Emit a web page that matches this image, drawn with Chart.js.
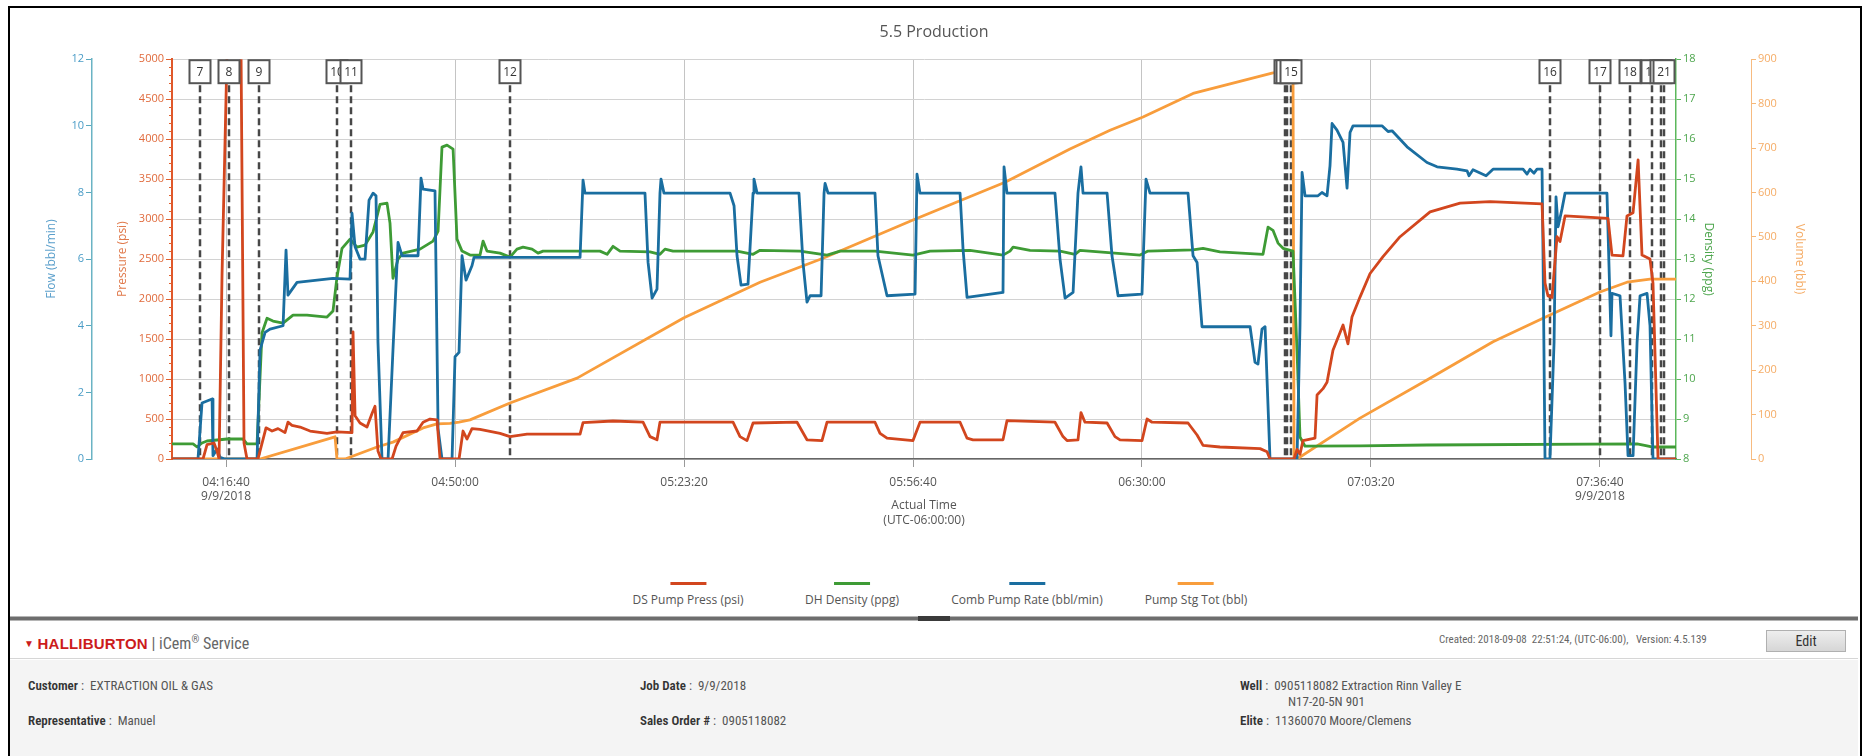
<!doctype html>
<html lang="en-US">
<head>
    <meta charset="utf-8" />
    <title>5.5 Production</title>
    <script src="https://cdn.jsdelivr.net/npm/chart.js@4.4.0/dist/chart.umd.min.js"></script>
    <style>
        body {
            margin: 0;
            width: 1868px;
            height: 756px;
            overflow: hidden;
            background: #fff;
            font-family: 'Open Sans', sans-serif;
            position: relative;
        }

        .frame {
            position: absolute;
            left: 8px;
            top: 6px;
            width: 1850px;
            height: 760px;
            border: 2px solid #000;
            border-bottom: none;
        }

        #chartBox {
            position: absolute;
            left: 10px;
            top: 9px;
            width: 1848px;
            height: 572px;
        }

        .legend-item {
            position: absolute;
            top: 582px;
            transform: translateX(-50%);
            text-align: center;
            font-size: 12px;
            color: #555;
            white-space: nowrap;
        }

        .legend-item .swatch {
            width: 36px;
            height: 3px;
            margin: 0 auto 6px auto;
        }

        .splitter {
            position: absolute;
            left: 10px;
            top: 616px;
            width: 1848px;
            height: 3px;
            background: #6d6d6d;
            border-top: 1px solid #b5b5b5;
            border-bottom: 1px solid #b5b5b5;
        }

        .splitter .grip {
            position: absolute;
            left: 908px;
            top: -1px;
            width: 32px;
            height: 5px;
            background: #3a3a3a;
        }

        .bottom {
            font-family: 'Liberation Sans Narrow', 'Roboto Condensed', 'Liberation Sans', sans-serif;
        }

        .brand {
            position: absolute;
            left: 24px;
            top: 630px;
            height: 20px;
            line-height: 20px;
            white-space: nowrap;
        }

        .brand .tri {
            color: #cc1b1b;
            font-size: 10px;
            vertical-align: 2px;
        }

        .brand .hal {
            color: #cc1b1b;
            font-weight: bold;
            font-size: 15px;
            font-family: 'Liberation Sans', sans-serif;
            letter-spacing: 0.2px;
        }

        .brand .svc {
            color: #666;
            font-size: 16px;
        }

        .created {
            position: absolute;
            left: 1439px;
            top: 633px;
            font-size: 11px;
            color: #666;
            white-space: nowrap;
        }

        .edit {
            position: absolute;
            left: 1766px;
            top: 630px;
            width: 80px;
            height: 22px;
            line-height: 21px;
            text-align: center;
            font-size: 14px;
            color: #333;
            background: linear-gradient(#eeeeee, #d6d6d6);
            border: 1px solid #b0b0b0;
            box-sizing: border-box;
        }

        .rule {
            position: absolute;
            left: 10px;
            top: 658px;
            width: 1848px;
            height: 1px;
            background: #d6d6d6;
        }

        .info {
            position: absolute;
            left: 10px;
            top: 660px;
            width: 1848px;
            height: 96px;
            background: #f4f4f4;
        }

        .field {
            position: absolute;
            font-size: 13px;
            line-height: 16px;
            color: #555;
            white-space: nowrap;
        }

        .field b {
            color: #333;
            font-weight: 600;
        }
    </style>
</head>

<body>
    <div class="frame"></div>
    <div id="chartBox"><canvas id="chart"></canvas></div>
    <div id="legend"></div>
    <div class="splitter"><div class="grip"></div></div>

    <div class="bottom">
        <div class="brand"><span class="tri">&#9660;</span> <span class="hal">HALLIBURTON</span> <span class="svc">| iCem<sup style="font-size:10px">&reg;</sup> Service</span></div>
        <div class="created">Created: 2018-09-08&nbsp; 22:51:24, (UTC-06:00),&nbsp;&nbsp; Version: 4.5.139</div>
        <div class="edit">Edit</div>
        <div class="rule"></div>
        <div class="info"></div>
        <div class="field" style="left:28px; top:678px"><b>Customer</b> :&nbsp; EXTRACTION OIL &amp; GAS</div>
        <div class="field" style="left:28px; top:713px"><b>Representative</b> :&nbsp; Manuel</div>
        <div class="field" style="left:640px; top:678px"><b>Job Date</b> :&nbsp; 9/9/2018</div>
        <div class="field" style="left:640px; top:713px"><b>Sales Order #</b> :&nbsp; 0905118082</div>
        <div class="field" style="left:1240px; top:678px"><b>Well</b> :&nbsp; 0905118082 Extraction Rinn Valley E</div>
        <div class="field" style="left:1288px; top:694px">N17-20-5N 901</div>
        <div class="field" style="left:1240px; top:713px"><b>Elite</b> :&nbsp; 11360070 Moore/Clemens</div>
    </div>

    <script>
        // time axis in seconds since midnight (9/9/2018, UTC-06:00)
        const timeMin = 14928;
        const timeMax = 28064;
        const timeTicks = [15400, 17400, 19400, 21400, 23400, 25400, 27400];
        const timeTickLabels = ['04:16:40', '04:50:00', '05:23:20', '05:56:40', '06:30:00', '07:03:20', '07:36:40'];
        const dateLabel = '9/9/2018';

        const seriesNames = ['DS Pump Press (psi)', 'DH Density (ppg)', 'Comb Pump Rate (bbl/min)', 'Pump Stg Tot (bbl)'];

        // [time, psi]
        const pressure = [
            [14928, 0], [15199, 0], [15234, 180], [15295, 200], [15321, 100], [15339, 0], [15365, 2300], [15409, 5100],
            [15531, 5100], [15557, 200], [15583, 0], [15679, 0], [15749, 390], [15802, 350], [15854, 380], [15915, 330],
            [15941, 460], [15976, 420], [16046, 400], [16134, 350], [16282, 320], [16369, 340], [16500, 330], [16509, 1590],
            [16527, 540], [16570, 450], [16631, 400], [16675, 570], [16701, 660], [16727, 100], [16754, 0], [16850, 0],
            [16885, 160], [16946, 330], [17068, 350], [17121, 460], [17182, 500], [17243, 490], [17269, 0], [17435, 0],
            [17470, 350], [17505, 250], [17548, 380], [17618, 370], [17793, 320], [17880, 280], [18029, 310], [18492, 310],
            [18518, 454], [18780, 475], [19042, 460], [19103, 280], [19164, 240], [19190, 460], [19828, 460], [19889, 280],
            [19950, 230], [20003, 450], [20387, 460], [20474, 240], [20605, 230], [20649, 460], [21068, 460], [21112, 320],
            [21173, 260], [21400, 230], [21461, 460], [21811, 460], [21872, 260], [21924, 240], [22186, 240], [22221, 480],
            [22640, 460], [22710, 280], [22745, 230], [22841, 240], [22867, 580], [22902, 460], [23095, 450], [23164, 280],
            [23208, 240], [23400, 230], [23444, 500], [23488, 460], [23802, 450], [23881, 300], [23933, 170], [24081, 150],
            [24431, 130], [24492, 90], [24518, 0], [24728, 0], [24754, 120], [24780, 60], [24806, 230], [24911, 260],
            [24929, 800], [24981, 880], [25016, 960], [25068, 1360], [25156, 1675], [25199, 1440], [25234, 1775], [25304, 2025],
            [25392, 2320], [25505, 2530], [25654, 2780], [25916, 3090], [26178, 3200], [26440, 3220], [26894, 3190], [26920, 2200],
            [26946, 2040], [26981, 2020], [27025, 2780], [27051, 2720], [27095, 3040], [27470, 3010], [27505, 2550], [27601, 2540],
            [27636, 3040], [27689, 3080], [27733, 3740], [27767, 2550], [27837, 2500], [27863, 2200], [27907, 0], [28064, 0]
        ];

        // [time, ppg]
        const density = [
            [14928, 8.38], [15112, 8.38], [15147, 8.3], [15190, 8.4], [15234, 8.45], [15409, 8.5], [15548, 8.5], [15583, 8.38],
            [15671, 8.38], [15714, 11.15], [15758, 11.52], [15810, 11.45], [15898, 11.4], [15985, 11.6], [16107, 11.6], [16282, 11.55],
            [16334, 11.7], [16369, 12.55], [16413, 13.27], [16483, 13.5], [16544, 13.3], [16614, 13.35], [16684, 13.68], [16745, 14.37],
            [16806, 14.4], [16832, 13.9], [16858, 12.52], [16902, 13.0], [16946, 13.15], [17094, 13.25], [17208, 13.45], [17252, 13.7],
            [17286, 15.8], [17330, 15.85], [17383, 15.75], [17417, 13.5], [17461, 13.2], [17531, 13.1], [17618, 13.1], [17645, 13.45],
            [17679, 13.2], [17793, 13.15], [17880, 13.05], [17941, 13.25], [17994, 13.3], [18073, 13.25], [18125, 13.15], [18169, 13.2],
            [18666, 13.2], [18728, 13.12], [18780, 13.32], [18841, 13.2], [19103, 13.18], [19190, 13.12], [19234, 13.25], [19304, 13.2],
            [19863, 13.2], [20003, 13.12], [20064, 13.22], [20413, 13.2], [20649, 13.1], [20763, 13.2], [21068, 13.2], [21400, 13.1],
            [21549, 13.2], [21898, 13.22], [22186, 13.1], [22247, 13.2], [22274, 13.3], [22422, 13.22], [22684, 13.2], [22815, 13.12],
            [22858, 13.22], [23383, 13.1], [23453, 13.2], [23846, 13.23], [23933, 13.27], [24081, 13.18], [24457, 13.12], [24501, 13.8],
            [24544, 13.72], [24588, 13.4], [24632, 13.27], [24719, 13.2], [24754, 10.7], [24780, 8.55], [24824, 8.32], [25304, 8.33],
            [25889, 8.35], [27724, 8.38], [27811, 8.33], [27863, 8.3], [28064, 8.3]
        ];

        // [time, bbl/min]
        const rate = [
            [14928, 0], [15155, 0], [15190, 1.68], [15234, 1.74], [15278, 1.8], [15286, 0.1], [15321, 0.3], [15347, 0.05],
            [15391, 0], [15671, 0], [15697, 3.27], [15741, 3.8], [15784, 3.9], [15898, 4.0], [15924, 6.27], [15941, 4.92],
            [16020, 5.3], [16334, 5.42], [16483, 5.4], [16500, 7.38], [16527, 6.37], [16570, 6.0], [16614, 6.0], [16649, 7.77],
            [16684, 7.98], [16710, 7.9], [16727, 3.5], [16762, 0], [16815, 0], [16858, 3.27], [16902, 6.5], [16937, 6.1],
            [17077, 6.1], [17103, 8.43], [17121, 8.1], [17225, 8.05], [17252, 0.9], [17286, 0], [17374, 0], [17400, 3.07],
            [17435, 3.2], [17461, 6.1], [17496, 5.37], [17548, 5.8], [17566, 6.05], [18492, 6.05], [18518, 8.37], [18535, 7.98],
            [19059, 7.98], [19086, 5.9], [19121, 4.83], [19164, 5.1], [19190, 7.98], [19199, 8.4], [19225, 7.98], [19802, 7.98],
            [19837, 7.6], [19863, 6.1], [19898, 5.22], [19959, 5.25], [20003, 7.98], [20011, 8.4], [20038, 7.98], [20404, 7.98],
            [20439, 5.9], [20474, 4.71], [20501, 4.9], [20597, 4.9], [20623, 7.98], [20632, 8.27], [20658, 7.98], [21068, 7.98],
            [21094, 6.1], [21173, 4.9], [21418, 4.95], [21435, 8.55], [21461, 7.98], [21811, 7.98], [21837, 6.3], [21872, 4.85],
            [22186, 5.0], [22195, 8.77], [22221, 7.98], [22640, 7.98], [22684, 6.0], [22728, 4.83], [22798, 5.0], [22841, 7.98],
            [22867, 8.77], [22885, 7.98], [23095, 7.98], [23138, 6.1], [23191, 4.9], [23400, 4.95], [23435, 8.4], [23470, 7.98],
            [23802, 7.98], [23846, 6.1], [23881, 5.9], [23924, 3.97], [24344, 3.97], [24387, 2.9], [24413, 2.85], [24448, 3.9],
            [24475, 3.97], [24518, 0], [24754, 0], [24780, 4.0], [24798, 8.6], [24824, 7.9], [24937, 7.9], [24972, 8.0],
            [25016, 7.9], [25042, 8.8], [25060, 10.07], [25103, 9.87], [25156, 9.5], [25191, 8.13], [25217, 9.8], [25243, 10.0],
            [25496, 10.0], [25549, 9.83], [25584, 9.85], [25715, 9.37], [25889, 8.9], [25977, 8.77], [26151, 8.7], [26239, 8.65],
            [26256, 8.5], [26291, 8.68], [26405, 8.5], [26466, 8.7], [26728, 8.7], [26763, 8.55], [26789, 8.7], [26824, 8.58],
            [26850, 8.7], [26894, 8.7], [26903, 6.0], [26920, 0], [26963, 0], [26999, 3.5], [27016, 7.87], [27034, 6.97],
            [27068, 7.5], [27095, 7.98], [27461, 7.98], [27496, 3.7], [27505, 4.97], [27575, 4.9], [27619, 2.27], [27645, 0.1],
            [27689, 0.1], [27724, 3.5], [27750, 4.9], [27811, 4.97], [27837, 4.0], [27863, 0], [28064, 0]
        ];

        // [time, bbl]
        const stageTotal = [
            [14928, 0], [15697, 0], [16352, 50], [16369, 0], [16439, 0], [16719, 27], [16858, 38], [17121, 70],
            [17243, 79], [17356, 80], [17435, 83], [17531, 88], [17880, 126], [18466, 182], [19400, 318], [20064, 398],
            [20614, 452], [21400, 538], [22204, 623], [22771, 698], [23121, 740], [23409, 770], [23846, 823], [24544, 869],
            [24693, 880], [24719, 880], [24728, 0], [24754, 0], [25304, 92], [25889, 178], [26466, 264], [26963, 324],
            [27400, 376], [27636, 398], [27837, 405], [28064, 405]
        ];

        // job event markers
        const eventNumbers = [7, 8, 9, 10, 11, 12, 13, 14, 15, 16, 17, 18, 19, 20, 21];
        const eventTimes = [15173, 15426, 15688, 16369, 16492, 17880, 24649, 24667, 24702, 26963, 27400, 27662, 27855, 27933, 27959];

        const RED = '#d2461e', GREEN = '#3e9b35', BLUE = '#1a6ea0', ORANGE = '#f89d3c';
        const seriesColors = [RED, GREEN, BLUE, ORANGE];

        Chart.defaults.font.family = "'Open Sans', sans-serif";
        Chart.defaults.font.size = 11;

        const eventPlugin = {
            id: 'events',
            beforeDatasetsDraw(chart) {
                const { ctx, chartArea, scales } = chart;
                ctx.save();
                ctx.strokeStyle = '#474747';
                ctx.lineWidth = 2.5;
                ctx.setLineDash([7, 4]);
                eventTimes.forEach(t => {
                    const px = Math.round(scales.x.getPixelForValue(t));
                    ctx.beginPath();
                    ctx.moveTo(px, chartArea.top + 26);
                    ctx.lineTo(px, chartArea.bottom);
                    ctx.stroke();
                });
                ctx.restore();
            },
            afterDatasetsDraw(chart) {
                const { ctx, chartArea, scales } = chart;
                ctx.save();
                ctx.font = "12px 'Open Sans', sans-serif";
                ctx.textAlign = 'center';
                ctx.textBaseline = 'middle';
                eventTimes.forEach((t, i) => {
                    const px = Math.round(scales.x.getPixelForValue(t));
                    const w = 21, h = 23, top = chartArea.top + 1;
                    ctx.fillStyle = '#fff';
                    ctx.fillRect(px - w / 2, top, w, h);
                    ctx.strokeStyle = '#555';
                    ctx.lineWidth = 2;
                    ctx.strokeRect(px - w / 2, top, w, h);
                    ctx.fillStyle = '#333';
                    ctx.fillText(String(eventNumbers[i]), px, top + h / 2 + 1);
                });

                // minor ticks on the pressure axis
                const yp = scales.yPress;
                ctx.strokeStyle = '#e0602f';
                ctx.lineWidth = 1;
                for (let v = 100; v < 5000; v += 100) {
                    if (v % 500 === 0) continue;
                    const py = Math.round(yp.getPixelForValue(v)) + 0.5;
                    ctx.beginPath();
                    ctx.moveTo(yp.right - 3, py);
                    ctx.lineTo(yp.right, py);
                    ctx.stroke();
                }
                ctx.restore();
            }
        };

        const axisTitleFont = { size: 12 };
        const plainNumber = v => String(v);

        new Chart(document.getElementById('chart'), {
            type: 'line',
            data: {
                datasets: [
                    { label: seriesNames[0], data: pressure, yAxisID: 'yPress', borderColor: RED, order: 0 },
                    { label: seriesNames[1], data: density, yAxisID: 'yDens', borderColor: GREEN, order: 2 },
                    { label: seriesNames[2], data: rate, yAxisID: 'yFlow', borderColor: BLUE, order: 1 },
                    { label: seriesNames[3], data: stageTotal, yAxisID: 'yVol', borderColor: ORANGE, order: 3 }
                ]
            },
            options: {
                responsive: true,
                maintainAspectRatio: false,
                animation: false,
                elements: {
                    line: { borderWidth: 2.8, tension: 0, borderJoinStyle: 'round', borderCapStyle: 'round' },
                    point: { radius: 0 }
                },
                layout: { padding: 0 },
                plugins: {
                    legend: { display: false },
                    tooltip: { enabled: false },
                    title: {
                        display: true,
                        text: '5.5 Production',
                        color: '#555',
                        font: { size: 16, weight: 'normal' },
                        padding: { top: 14, bottom: 17 }
                    }
                },
                scales: {
                    x: {
                        type: 'linear',
                        min: timeMin,
                        max: timeMax,
                        afterBuildTicks: s => { s.ticks = timeTicks.map(v => ({ value: v })); },
                        afterFit: s => { s.height = 122; },
                        ticks: {
                            color: '#555',
                            font: { size: 12 },
                            padding: 8,
                            maxRotation: 0,
                            autoSkip: false,
                            callback: v => {
                                const i = timeTicks.indexOf(v);
                                const lab = timeTickLabels[i];
                                return (i === 0 || i === timeTicks.length - 1) ? [lab, dateLabel] : lab;
                            }
                        },
                        grid: { color: '#c4c4c4', tickColor: '#999', tickLength: 8 },
                        border: { color: '#666', width: 1.5 },
                        title: {
                            display: true,
                            text: ['Actual Time', '(UTC-06:00:00)'],
                            color: '#555',
                            font: { size: 12, lineHeight: 1.25 },
                            padding: { top: 0, bottom: 53 }
                        }
                    },
                    yFlow: {
                        position: 'left',
                        weight: 1,
                        min: 0,
                        max: 12,
                        ticks: { stepSize: 2, color: '#4a9cc7', padding: 2, callback: plainNumber },
                        grid: { drawOnChartArea: false, tickColor: '#5aa9c0', tickLength: 6 },
                        border: { color: '#6ab3c4', width: 1.5 },
                        afterFit: s => { s.width = 82; },
                        title: { display: true, text: 'Flow (bbl/min)', color: '#5a9fcb', font: axisTitleFont, padding: { top: 34, bottom: 0 } }
                    },
                    yPress: {
                        position: 'left',
                        weight: 0,
                        min: 0,
                        max: 5000,
                        ticks: { stepSize: 500, color: '#e06a3c', padding: 2, callback: plainNumber },
                        grid: { color: '#d2d2d2', tickColor: '#e0602f', tickLength: 6 },
                        border: { color: '#e0582a', width: 2 },
                        afterFit: s => { s.width = 80; },
                        title: { display: true, text: 'Pressure (psi)', color: '#e07a4c', font: axisTitleFont, padding: { top: 23, bottom: 0 } }
                    },
                    yDens: {
                        position: 'right',
                        weight: 0,
                        min: 8,
                        max: 18,
                        ticks: { stepSize: 1, color: '#4ea64e', padding: 2, callback: plainNumber },
                        grid: { drawOnChartArea: false, tickColor: '#5cb85c', tickLength: 5 },
                        border: { color: '#5cb85c', width: 1.5 },
                        afterFit: s => { s.width = 75; },
                        title: { display: true, text: 'Density (ppg)', color: '#4ea64e', font: axisTitleFont, padding: { top: 35, bottom: 0 } }
                    },
                    yVol: {
                        position: 'right',
                        weight: 1,
                        min: 0,
                        max: 900,
                        ticks: { stepSize: 100, color: '#f5ac66', padding: 2, callback: plainNumber },
                        grid: { drawOnChartArea: false, tickColor: '#f7b878', tickLength: 5 },
                        border: { color: '#f7bb80', width: 1 },
                        afterFit: s => { s.width = 107; },
                        title: { display: true, text: 'Volume (bbl)', color: '#f5ac66', font: axisTitleFont, padding: { top: 51, bottom: 0 } }
                    }
                }
            },
            plugins: [eventPlugin]
        });

        // legend below the chart: coloured line above each name
        const legendCenters = [688, 852, 1027, 1196];
        const legend = document.getElementById('legend');
        seriesNames.forEach((name, i) => {
            const item = document.createElement('div');
            item.className = 'legend-item';
            item.style.left = legendCenters[i] + 'px';
            item.innerHTML = '<div class="swatch" style="background:' + seriesColors[i] + '"></div>' + name;
            legend.appendChild(item);
        });
    </script>
</body>
</html>
